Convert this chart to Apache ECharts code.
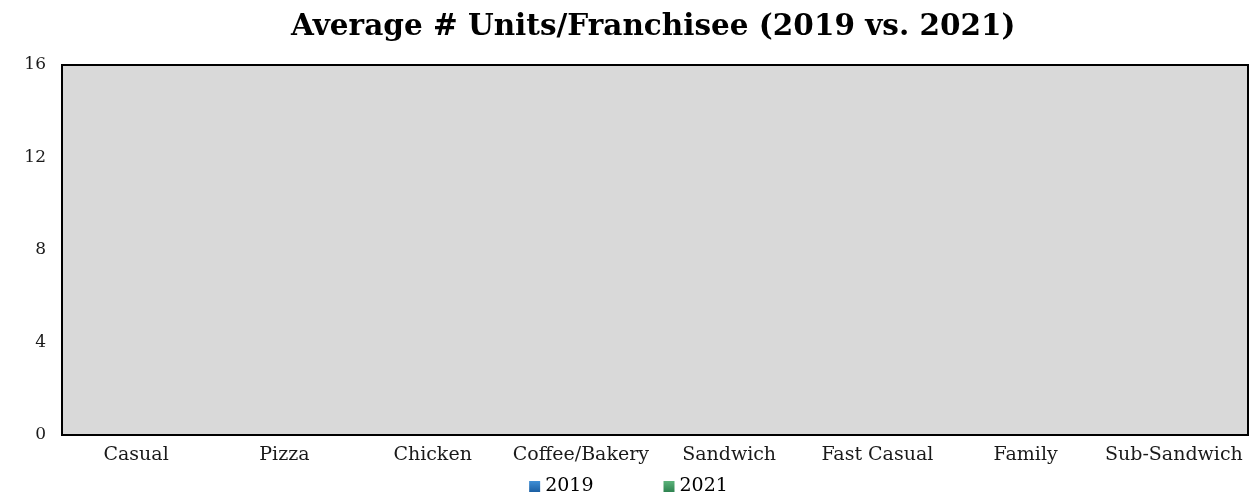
<!DOCTYPE html>
<html>
<head>
<meta charset="utf-8">
<script src="https://cdn.jsdelivr.net/npm/echarts@6/dist/echarts.min.js"></script>
<style>
  html, body { margin: 0; padding: 0; background: #fff; }
  #main { width: 1257px; height: 495px; }
</style>
</head>
<body>
<div id="main"></div>
<script>
// 类别与数据（图中没有可见的柱子，数值读作 0）
const categories = ['Casual', 'Pizza', 'Chicken', 'Coffee/Bakery', 'Sandwich', 'Fast Casual', 'Family', 'Sub-Sandwich']
const units2019 = [0, 0, 0, 0, 0, 0, 0, 0]
const units2021 = [0, 0, 0, 0, 0, 0, 0, 0]
const yTicks = [0, 4, 8, 12, 16]

const serif = '"DejaVu Serif", "Liberation Serif", serif'

var myChart = echarts.init(document.getElementById('main'))

var option = {
    animation: false,
    title: {
        text: 'Average # Units/Franchisee (2019 vs. 2021)',
        left: 286,
        top: 7,
        textStyle: { fontFamily: serif, fontWeight: 'bold', fontSize: 29.5, color: '#000' }
    },
    legend: {
        bottom: -6,
        left: 'center',
        itemWidth: 11,
        itemHeight: 11,
        itemGap: 70,
        icon: 'rect',
        textStyle: { fontFamily: serif, fontSize: 19, color: '#000' },
        data: ['2019', '2021']
    },
    grid: {
        left: 62,
        right: 9,
        top: 65,
        bottom: 60,
        show: true,
        backgroundColor: '#d9d9d9',
        borderColor: '#000',
        borderWidth: 2
    },
    xAxis: {
        type: 'category',
        data: categories,
        axisLine: { show: true, lineStyle: { color: '#000', width: 2 } },
        axisTick: { show: false },
        axisLabel: { fontFamily: serif, fontSize: 19, color: '#1a1a1a', margin: 11, interval: 0 }
    },
    yAxis: {
        type: 'value',
        min: yTicks[0],
        max: yTicks[yTicks.length - 1],
        interval: 4,
        axisLine: { show: false },
        axisTick: { show: false },
        splitLine: { show: false },
        axisLabel: { fontFamily: serif, fontSize: 17, color: '#1a1a1a', margin: 16 }
    },
    series: [
        {
            name: '2019',
            type: 'bar',
            data: units2019,
            itemStyle: {
                color: new echarts.graphic.LinearGradient(0, 0, 0, 1, [
                    { offset: 0, color: '#3f8fd6' },
                    { offset: 1, color: '#1b5fa3' }
                ])
            }
        },
        {
            name: '2021',
            type: 'bar',
            data: units2021,
            itemStyle: {
                color: new echarts.graphic.LinearGradient(0, 0, 0, 1, [
                    { offset: 0, color: '#5cb37a' },
                    { offset: 1, color: '#2e8350' }
                ])
            }
        }
    ]
}

myChart.setOption(option)
</script>
</body>
</html>
